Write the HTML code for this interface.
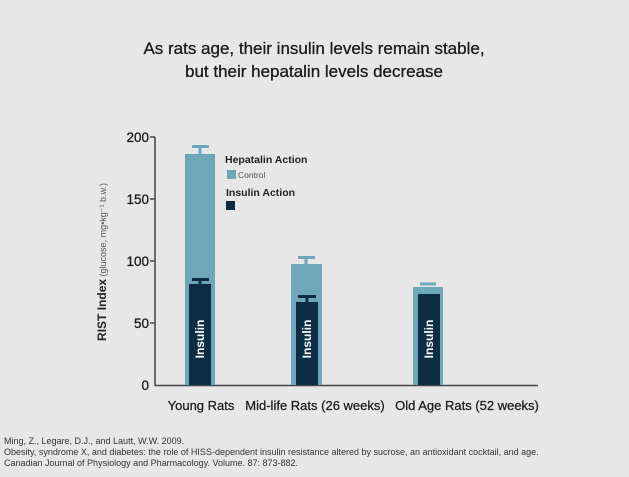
<!DOCTYPE html>
<html><head><style>
body{margin:0;width:629px;height:472px;background:#e7e7e7;font-family:"Liberation Sans",sans-serif;overflow:hidden}
</style></head><body>
<svg width="629" height="472" xmlns="http://www.w3.org/2000/svg" font-family="Liberation Sans, sans-serif">
<rect width="629" height="472" fill="#e7e7e7"/>
<text x="314" y="54" text-anchor="middle" font-size="17" fill="#1a1a1a" stroke="#1a1a1a" stroke-width="0.3">As rats age, their insulin levels remain stable,</text>
<text x="314" y="77" text-anchor="middle" font-size="17" fill="#1a1a1a" stroke="#1a1a1a" stroke-width="0.3">but their hepatalin levels decrease</text>
<line x1="155" y1="137" x2="155" y2="386" stroke="#444" stroke-width="1.5"/>
<line x1="155" y1="385.5" x2="538" y2="385.5" stroke="#444" stroke-width="1.5"/>
<g stroke="#444" stroke-width="1.5">
<line x1="150" y1="137" x2="155" y2="137"/><line x1="150" y1="199" x2="155" y2="199"/><line x1="150" y1="261" x2="155" y2="261"/><line x1="150" y1="323" x2="155" y2="323"/>
</g>
<g font-size="13.5" fill="#1a1a1a" text-anchor="end" stroke="#1a1a1a" stroke-width="0.3">
<text x="149" y="142">200</text><text x="149" y="204">150</text><text x="149" y="266">100</text><text x="149" y="328">50</text><text x="149" y="390">0</text>
</g>
<text transform="translate(106,262) rotate(-90)" text-anchor="middle" font-size="12" fill="#222"><tspan font-weight="bold">RIST Index</tspan><tspan font-size="9" fill="#555"> (glucose, mg•kg⁻¹ b.w.)</tspan></text>
<g fill="#6ea6ba" stroke="#6ea6ba" stroke-width="3">
<rect x="185" y="154" width="30" height="231" stroke="none"/>
<line x1="200" y1="146" x2="200" y2="154"/><line x1="192" y1="146.5" x2="209" y2="146.5"/>
<rect x="291" y="264" width="31" height="121" stroke="none"/>
<line x1="306" y1="257" x2="306" y2="264"/><line x1="298" y1="257.5" x2="315" y2="257.5"/>
<rect x="413" y="287" width="30" height="98" stroke="none"/>
<line x1="420" y1="284" x2="436" y2="284"/>
</g>
<g fill="#0c2d44" stroke="#0c2d44" stroke-width="3">
<rect x="189" y="284" width="22" height="101" stroke="none"/>
<line x1="200" y1="279" x2="200" y2="284"/><line x1="192" y1="279.5" x2="209" y2="279.5"/>
<rect x="296" y="302" width="22" height="83" stroke="none"/>
<line x1="307" y1="296" x2="307" y2="302"/><line x1="298" y1="296.5" x2="316" y2="296.5"/>
<rect x="418" y="294" width="22" height="91" stroke="none"/>
</g>
<g font-size="12" font-weight="bold" fill="#fff" text-anchor="middle">
<text transform="translate(204,339) rotate(-90)">Insulin</text>
<text transform="translate(311,339) rotate(-90)">Insulin</text>
<text transform="translate(433,339) rotate(-90)">Insulin</text>
</g>
<text x="225" y="163" font-size="10.5" font-weight="bold" fill="#222">Hepatalin Action</text>
<rect x="227" y="170" width="9" height="9" fill="#6ea6ba"/>
<text x="238" y="178" font-size="8.5" fill="#555">Control</text>
<text x="226" y="196" font-size="10.5" font-weight="bold" fill="#222">Insulin Action</text>
<rect x="226" y="201" width="9" height="9" fill="#0c2d44"/>
<g font-size="13" fill="#1a1a1a" text-anchor="middle" stroke="#1a1a1a" stroke-width="0.25">
<text x="201" y="410">Young Rats</text>
<text x="315" y="410">Mid-life Rats (26 weeks)</text>
<text x="467" y="410">Old Age Rats (52 weeks)</text>
</g>
<g font-size="9" fill="#333">
<text x="4" y="444">Ming, Z., Legare, D.J., and Lautt, W.W. 2009.</text>
<text x="4" y="455">Obesity, syndrome X, and diabetes: the role of HISS-dependent insulin resistance altered by sucrose, an antioxidant cocktail, and age.</text>
<text x="4" y="466">Canadian Journal of Physiology and Pharmacology. Volume. 87: 873-882.</text>
</g>
</svg>
</body></html>
